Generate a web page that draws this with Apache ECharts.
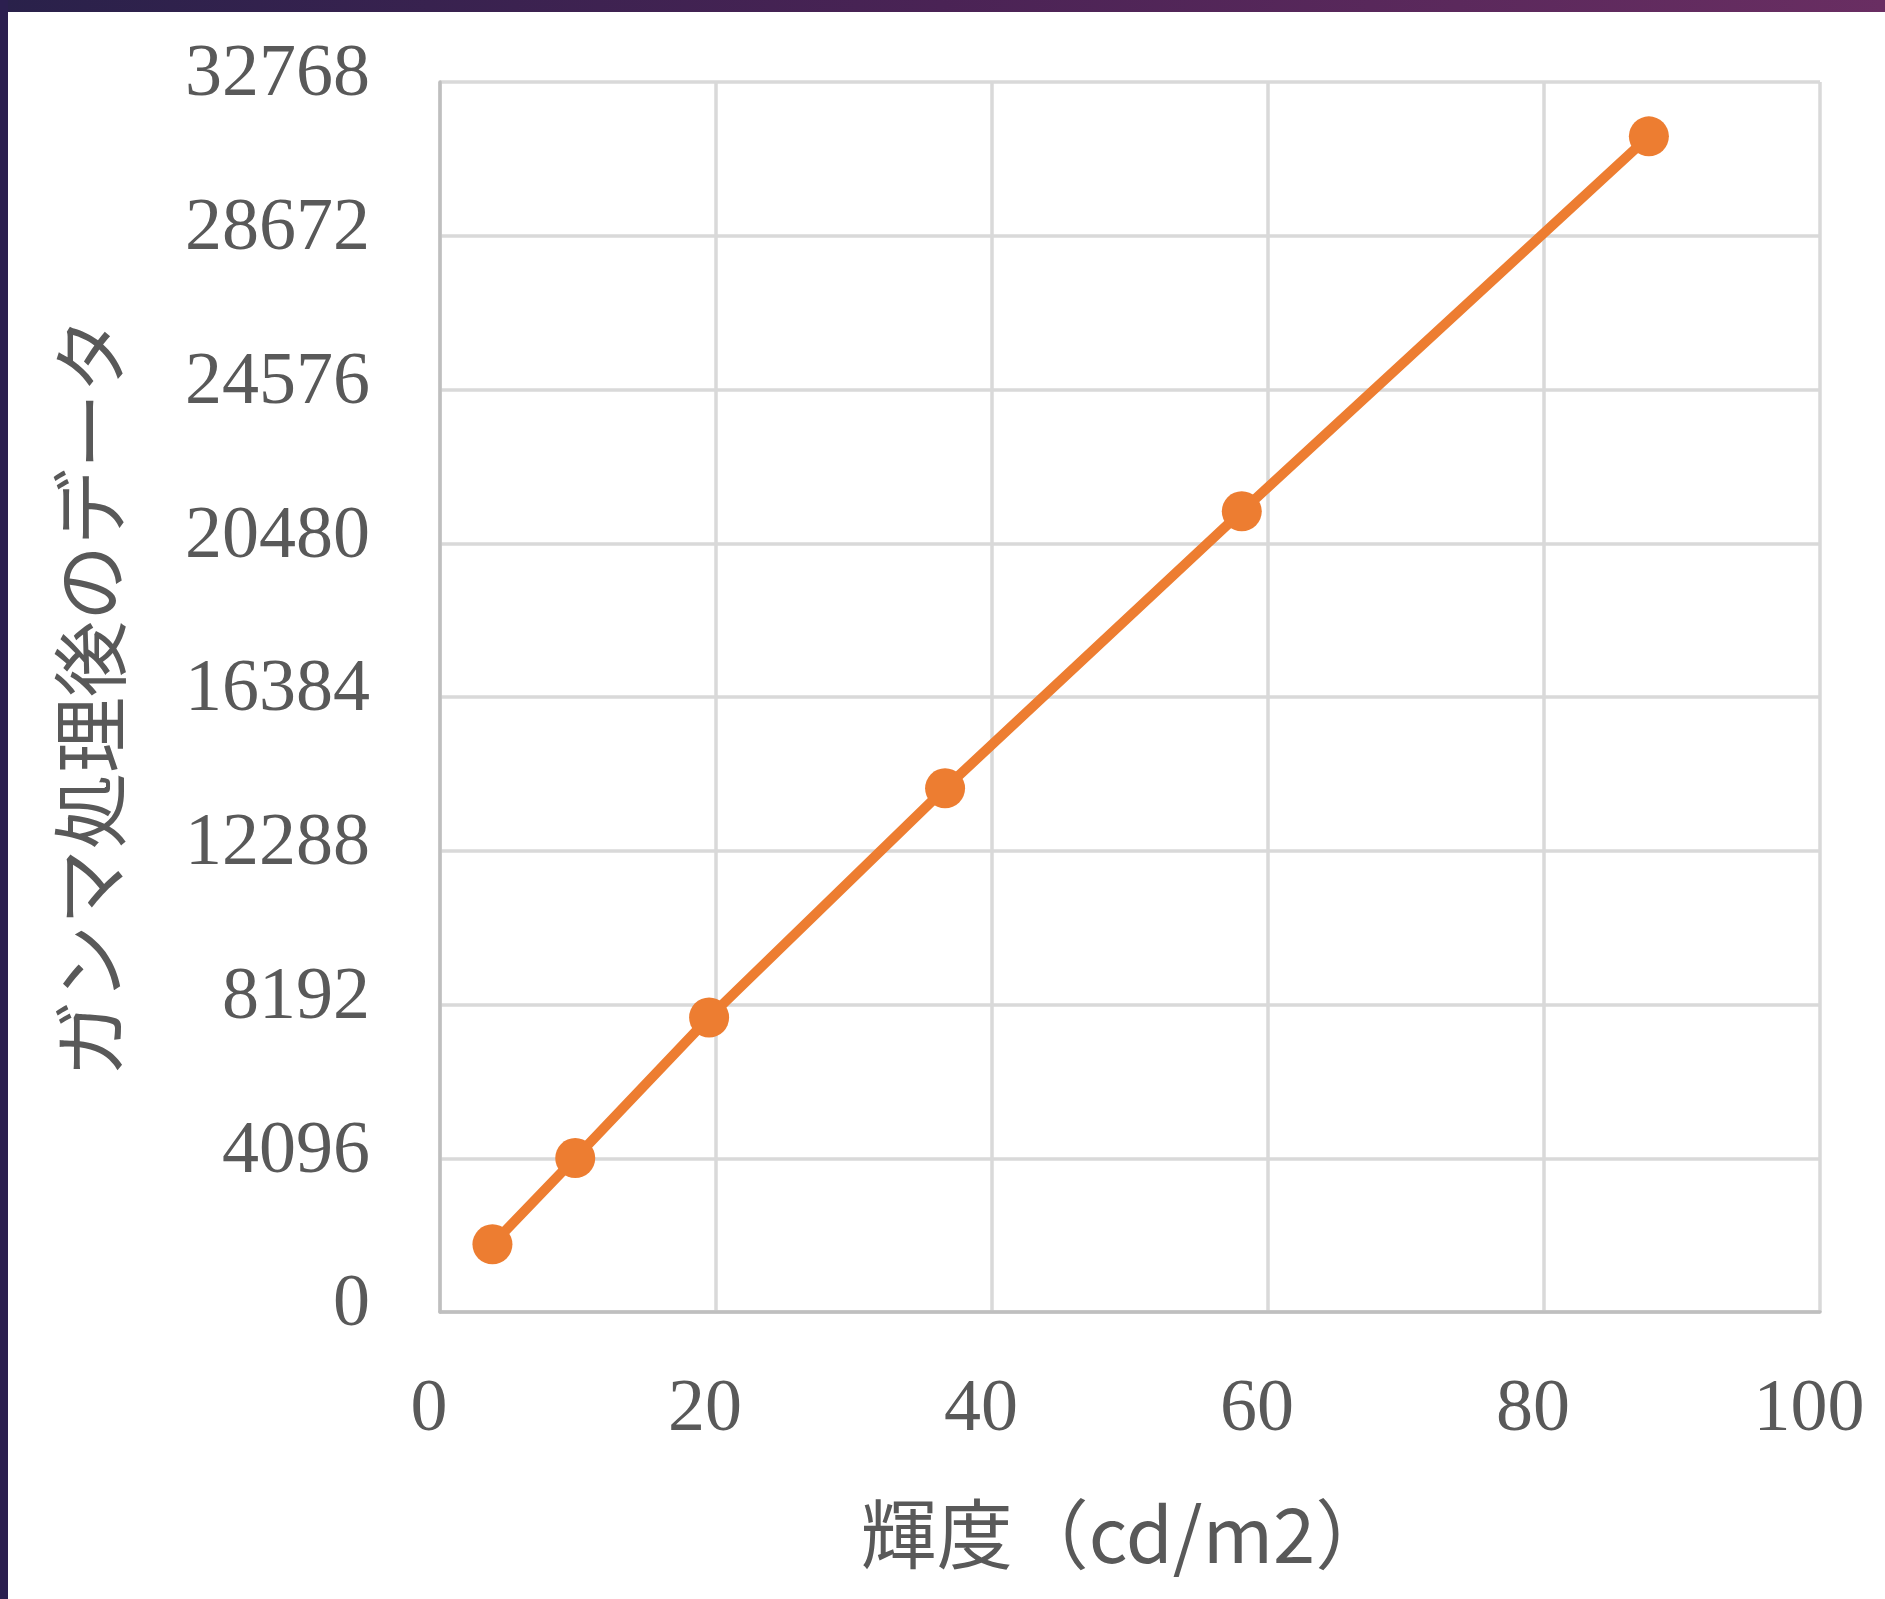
<!DOCTYPE html>
<html>
<head>
<meta charset="utf-8">
<script src="https://cdn.jsdelivr.net/npm/echarts@6/dist/echarts.min.js"></script>
<style>
  html, body { margin: 0; padding: 0; background: #ffffff; overflow: hidden; }
  #chart { width: 1885px; height: 1599px; }
</style>
</head>
<body>
<div id="chart"></div>
<script>
// Luminance (cd/m2) vs. gamma-corrected code value
const luminance = [3.8, 9.8, 19.5, 36.6, 58.1, 87.6];
const gammaValues = [1804, 4100, 7846, 13952, 21331, 31320];
const xTicks = [0, 20, 40, 60, 80, 100];
const yTicks = [0, 4096, 8192, 12288, 16384, 20480, 24576, 28672, 32768];

const xTitle = '輝度（cd/m2）';
const yTitle = 'ガンマ処理後のデータ';

const points = luminance.map((x, i) => [x, gammaValues[i]]);

const chart = echarts.init(document.getElementById('chart'), null, { renderer: 'canvas' });

const labelFont = '"Liberation Serif", "DejaVu Serif", serif';
const titleFont = '"Noto Sans CJK JP", "Noto Sans", sans-serif';

chart.setOption({
  animation: false,
  backgroundColor: '#ffffff',
  graphic: [
    {
      type: 'rect',
      left: 0, top: 0,
      shape: { width: 1885, height: 12 },
      style: {
        fill: new echarts.graphic.LinearGradient(0, 0, 1, 0, [
          { offset: 0, color: '#29214a' },
          { offset: 0.5, color: '#4a2355' },
          { offset: 1, color: '#692e62' }
        ])
      },
      silent: true
    },
    {
      type: 'rect',
      left: 0, top: 0,
      shape: { width: 8, height: 1599 },
      style: { fill: '#2b1f4f' },
      silent: true
    }
  ],
  grid: {
    left: 440,
    top: 82,
    width: 1380,
    height: 1230,
    containLabel: false,
    outerBoundsMode: 'none'
  },
  xAxis: {
    type: 'value',
    min: xTicks[0],
    max: xTicks[xTicks.length - 1],
    interval: xTicks[1] - xTicks[0],
    name: xTitle,
    nameLocation: 'middle',
    nameGap: 184,
    nameTextStyle: {
      fontFamily: titleFont,
      fontSize: 76,
      color: '#595959',
      padding: [0, 8, 0, 0]
    },
    axisLine: { show: true, lineStyle: { color: '#bfbfbf', width: 3.5 } },
    axisTick: { show: false },
    axisLabel: {
      fontFamily: labelFont,
      fontSize: 74,
      color: '#595959',
      margin: 62,
      padding: [0, 22, 0, 0]
    },
    splitLine: { show: true, lineStyle: { color: '#d9d9d9', width: 3.5 } }
  },
  yAxis: {
    type: 'value',
    min: yTicks[0],
    max: yTicks[yTicks.length - 1],
    interval: yTicks[1] - yTicks[0],
    name: yTitle,
    nameLocation: 'middle',
    nameGap: 312,
    nameRotate: 90,
    nameTextStyle: {
      fontFamily: titleFont,
      fontSize: 76,
      color: '#595959'
    },
    axisLine: { show: true, lineStyle: { color: '#bfbfbf', width: 3.5 } },
    axisTick: { show: false },
    axisLabel: {
      margin: 70,
      formatter: (v) => '{v|' + v + '}',
      rich: {
        v: {
          fontFamily: labelFont,
          fontSize: 74,
          color: '#595959',
          padding: [0, 0, 12, 0]
        }
      }
    },
    splitLine: { show: true, lineStyle: { color: '#d9d9d9', width: 3.5 } }
  },
  series: [
    {
      type: 'line',
      data: points,
      symbol: 'circle',
      symbolSize: 40,
      lineStyle: { color: '#ed7d31', width: 10 },
      itemStyle: { color: '#ed7d31' },
      z: 5
    }
  ]
});
</script>
</body>
</html>
